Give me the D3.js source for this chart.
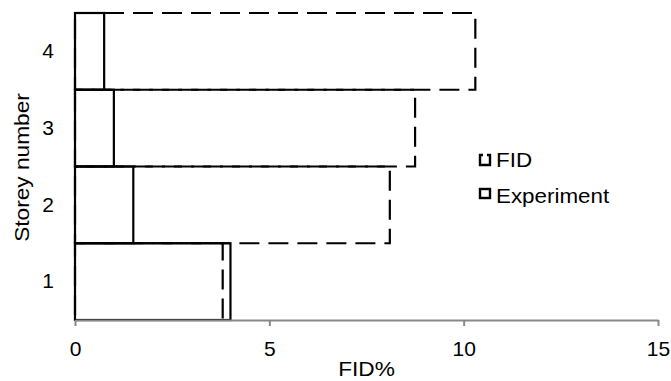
<!DOCTYPE html>
<html>
<head>
<meta charset="utf-8">
<script src="https://cdn.jsdelivr.net/npm/d3@7"></script>
<style>
  body { margin: 0; background: #fff; }
  text { font-family: "Liberation Sans", Arial, sans-serif; }
</style>
</head>
<body>
<svg id="canvas" width="671" height="381"></svg>
<script>
(function (d3) {

    // data
    const storeys = ['1', '2', '3', '4'];
    const fidValues = [3.8, 8.1, 8.75, 10.3];
    const experimentValues = [4.0, 1.5, 1.0, 0.75];
    const xTicks = [0, 5, 10, 15];

    const left = 75, right = 658, top = 13, bottom = 320;
    const FONT = 21;
    const STRETCH = 'scale(1.08,1)';

    let svg = d3.select('#canvas');

    let x = d3.scaleLinear().domain([0, 15]).range([left, right]);
    let y = d3.scaleBand().domain(storeys).range([bottom, top]).padding(0);

    // FID bars (dashed)
    svg.append('g').selectAll('rect.fid')
        .data(storeys)
        .enter()
        .append('rect')
        .classed('fid', true)
        .attr('x', x(0))
        .attr('y', (d) => y(d))
        .attr('width', (d, i) => x(fidValues[i]) - x(0))
        .attr('height', y.bandwidth())
        .attr('fill', 'none')
        .attr('stroke', '#000')
        .attr('stroke-width', 2.2)
        .attr('stroke-dasharray', '20,9');

    // experiment bars (solid)
    svg.append('g').selectAll('rect.exp')
        .data(storeys)
        .enter()
        .append('rect')
        .classed('exp', true)
        .attr('x', x(0))
        .attr('y', (d) => y(d))
        .attr('width', (d, i) => x(experimentValues[i]) - x(0))
        .attr('height', y.bandwidth())
        .attr('fill', 'none')
        .attr('stroke', '#000')
        .attr('stroke-width', 2.2);

    // x axis
    let xAxis = svg.append('g')
        .attr('transform', `translate(0,${bottom})`)
        .call(d3.axisBottom(x).tickValues(xTicks).tickSize(6).tickSizeOuter(0).tickPadding(15));
    xAxis.select('.domain').attr('stroke', '#888').attr('stroke-width', 2);
    xAxis.selectAll('.tick line').attr('stroke', '#888').attr('stroke-width', 2);
    xAxis.selectAll('.tick text')
        .attr('font-size', FONT)
        .attr('fill', '#000')
        .style('font-family', '"Liberation Sans", Arial, sans-serif');

    // y axis: labels only
    let yAxis = svg.append('g')
        .attr('transform', `translate(${left},0)`)
        .call(d3.axisLeft(y).tickSize(0).tickPadding(21));
    yAxis.select('.domain').remove();
    yAxis.selectAll('.tick text')
        .attr('font-size', FONT)
        .attr('fill', '#000')
        .style('font-family', '"Liberation Sans", Arial, sans-serif');

    // axis titles
    svg.append('text')
        .attr('transform', `translate(${(left + right) / 2},376) ${STRETCH}`)
        .attr('text-anchor', 'middle')
        .attr('font-size', FONT)
        .text('FID%');

    svg.append('text')
        .attr('transform', `translate(29,${(top + bottom) / 2 + 1}) rotate(-90) ${STRETCH}`)
        .attr('text-anchor', 'middle')
        .attr('font-size', FONT)
        .text('Storey number');

    // legend
    let legend = svg.append('g').attr('transform', 'translate(479,154)');
    legend.append('path')
        .attr('d', 'M4,1 L1,1 L1,11 L11,11 L11,1 L8,1')
        .attr('fill', 'none')
        .attr('stroke', '#000')
        .attr('stroke-width', 2.4);
    legend.append('text')
        .attr('transform', `translate(17,13) scale(1.12,1)`)
        .attr('font-size', 20)
        .text('FID');
    legend.append('rect')
        .attr('x', 1).attr('y', 35)
        .attr('width', 10).attr('height', 9)
        .attr('fill', 'none')
        .attr('stroke', '#000')
        .attr('stroke-width', 2.4);
    legend.append('text')
        .attr('transform', `translate(17,48.5) scale(1.12,1)`)
        .attr('font-size', 20)
        .text('Experiment');

})(d3)
</script>
</body>
</html>
